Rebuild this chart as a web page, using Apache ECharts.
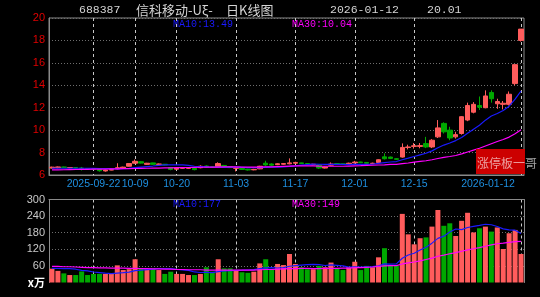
<!DOCTYPE html>
<html><head><meta charset="utf-8">
<script src="https://cdn.jsdelivr.net/npm/echarts@6/dist/echarts.min.js"></script>
<style>html,body{margin:0;padding:0;background:#000;}#c{width:540px;height:297px;}</style>
</head><body><div id="c"></div>
<script>
// ---------- data ----------
const dates = [
'2025-09-11','2025-09-12','2025-09-15','2025-09-16','2025-09-17','2025-09-18','2025-09-19','2025-09-22','2025-09-23','2025-09-24',
'2025-09-25','2025-09-26','2025-09-29','2025-09-30','2025-10-09','2025-10-10','2025-10-13','2025-10-14','2025-10-15','2025-10-16',
'2025-10-17','2025-10-20','2025-10-21','2025-10-22','2025-10-23','2025-10-24','2025-10-27','2025-10-28','2025-10-29','2025-10-30',
'2025-10-31','2025-11-03','2025-11-04','2025-11-05','2025-11-06','2025-11-07','2025-11-10','2025-11-11','2025-11-12','2025-11-13',
'2025-11-14','2025-11-17','2025-11-18','2025-11-19','2025-11-20','2025-11-21','2025-11-24','2025-11-25','2025-11-26','2025-11-27',
'2025-11-28','2025-12-01','2025-12-02','2025-12-03','2025-12-04','2025-12-05','2025-12-08','2025-12-09','2025-12-10','2025-12-11',
'2025-12-12','2025-12-15','2025-12-16','2025-12-17','2025-12-18','2025-12-19','2025-12-22','2025-12-23','2025-12-24','2025-12-25',
'2025-12-26','2025-12-29','2025-12-30','2025-12-31','2026-01-05','2026-01-06','2026-01-07','2026-01-08','2026-01-09','2026-01-12'];

const opens = [
6.62,6.65,6.72,6.64,6.66,6.62,6.57,6.56,6.50,6.36,
6.44,6.55,6.62,6.78,7.05,7.18,6.95,7.08,6.95,6.96,
6.66,6.52,6.60,6.60,6.60,6.65,6.80,6.72,6.75,6.85,
6.75,6.60,6.60,6.52,6.46,6.55,7.05,6.98,6.92,6.96,
7.00,7.05,7.08,7.02,6.92,6.90,6.62,6.88,7.02,7.00,
6.95,7.08,7.16,7.12,7.02,7.12,7.62,7.60,7.45,7.60,
8.45,8.55,8.55,8.80,8.50,9.40,10.60,10.00,9.40,9.70,
10.90,11.60,12.20,12.00,13.35,12.35,12.30,12.30,14.15,18.00];
const closes = [
6.70,6.72,6.66,6.67,6.62,6.56,6.55,6.52,6.38,6.44,
6.48,6.65,6.70,7.02,7.22,7.06,7.05,6.95,6.98,6.90,
6.50,6.62,6.66,6.62,6.48,6.78,6.70,6.68,7.02,6.72,
6.66,6.63,6.50,6.45,6.50,6.78,6.90,6.88,7.00,7.02,
7.08,7.12,7.02,6.98,6.96,6.62,6.72,6.98,6.95,6.94,
7.05,7.15,7.10,7.05,7.05,7.36,7.45,7.48,7.40,8.46,
8.50,8.60,8.62,8.50,9.10,10.20,9.85,9.30,9.60,11.20,
12.20,12.30,12.05,13.05,12.80,12.55,12.40,13.20,15.84,19.01];
const lows = [
6.58,6.60,6.62,6.60,6.58,6.40,6.50,6.48,6.30,6.30,
6.42,6.50,6.60,6.75,7.00,7.02,6.92,6.90,6.90,6.86,
6.42,6.50,6.56,6.55,6.42,6.60,6.65,6.64,6.70,6.68,
6.62,6.32,6.45,6.40,6.42,6.52,6.82,6.82,6.88,6.92,
6.95,7.00,6.98,6.94,6.88,6.55,6.58,6.84,6.90,6.90,
6.92,7.02,7.06,7.02,6.98,7.10,7.38,7.42,7.35,7.55,
8.28,8.35,8.38,8.40,8.40,9.30,9.70,9.10,9.25,9.60,
10.80,11.50,11.80,11.95,12.45,11.90,11.85,12.20,14.00,17.90];
const highs = [
6.74,6.76,6.75,6.70,6.68,6.72,6.60,6.58,6.52,6.46,
6.52,7.05,6.74,7.05,7.38,7.22,7.08,7.10,7.02,6.98,
6.68,6.66,6.70,6.66,6.62,6.86,6.85,6.76,7.13,6.90,
6.80,6.68,6.62,6.55,6.55,6.82,7.27,7.04,7.05,7.06,
7.48,7.18,7.10,7.04,7.00,6.92,6.76,7.12,7.05,7.02,
7.10,7.26,7.18,7.14,7.10,7.40,7.93,7.64,7.50,8.82,
8.70,8.85,8.85,9.40,9.20,10.90,10.70,10.30,9.85,11.25,
12.45,12.50,13.00,13.55,13.55,12.80,12.60,13.45,15.84,19.01];

const ma10 = [
6.60,6.60,6.60,6.60,6.60,6.60,6.60,6.59,6.58,6.58,
6.56,6.55,6.56,6.59,6.65,6.70,6.75,6.80,6.86,6.90,
6.90,6.90,6.90,6.86,6.78,6.75,6.72,6.69,6.70,6.68,
6.69,6.70,6.68,6.66,6.66,6.66,6.68,6.70,6.70,6.73,
6.77,6.82,6.88,6.93,6.97,6.96,6.94,6.95,6.95,6.94,
6.93,6.94,6.95,6.95,6.96,7.04,7.11,7.16,7.20,7.36,
7.50,7.65,7.80,7.94,8.15,8.43,8.67,8.85,9.07,9.35,
9.72,10.09,10.43,10.89,11.26,11.49,11.75,12.14,12.76,13.49];
const ma30 = [
6.46,6.46,6.47,6.48,6.49,6.50,6.51,6.52,6.52,6.53,
6.54,6.55,6.56,6.57,6.58,6.59,6.60,6.61,6.62,6.63,
6.64,6.65,6.66,6.67,6.68,6.69,6.70,6.71,6.71,6.72,
6.72,6.72,6.71,6.70,6.70,6.71,6.72,6.73,6.75,6.77,
6.79,6.81,6.82,6.82,6.81,6.79,6.78,6.78,6.78,6.78,
6.80,6.82,6.83,6.85,6.87,6.89,6.91,6.94,6.95,7.01,
7.07,7.14,7.21,7.27,7.36,7.47,7.57,7.65,7.74,7.88,
8.05,8.22,8.39,8.59,8.79,8.99,9.17,9.38,9.68,10.04];

const volumes = [
50,42,33,27,27,40,27,31,31,31,
33,62,45,48,84,51,48,51,45,31,
39,31,31,27,27,31,55,39,84,51,
51,42,37,35,39,69,84,48,67,63,
103,67,55,48,48,60,55,72,50,45,
55,75,45,60,55,91,124,63,60,248,
174,138,160,163,202,262,205,214,168,223,
252,181,196,202,184,199,121,178,190,103];
const volMa10 = [
51,51,50,50,48,44,42,38,36,33.9,
32.2,34.2,35.4,37.5,43.2,44.3,46.4,48.4,49.8,49.8,
50.4,47.3,45.9,43.8,38.1,36.1,36.8,35.6,39.5,41.5,
42.7,43.8,44.4,45.2,46.4,50.2,53.1,54,52.3,53.5,
58.7,61.2,63,64.3,65.2,64.3,61.4,63.8,62.1,60.3,
55.5,56.3,55.3,56.5,57.2,60.3,67.2,66.3,67.3,87.6,
99.5,105.8,117.3,127.6,142.3,159.4,167.5,182.6,193.4,190.9,
198.7,203,206.6,210.5,208.7,202.4,194,190.4,189,177];
const volMa30 = [
58,58,57,57,56,55,54,54,53,53,
52,52,52,51,51,50,50,49,49,48,
48,47,47,46,46,46,45,45,45,45,
45,45,45,45,45,46,47,47,48,49,
50,50,51,51,50,50,51,51,51,52,
52,54,54,55,56,58,60,61,61,67,
71,74,78,83,88,95,99,104,108,113,
118,122,126,131,136,140,142,145,148,149];

const tickDates = ['2025-09-22','2025-10-09','2025-10-20','2025-11-03','2025-11-17','2025-12-01','2025-12-15','2026-01-12'];
const tickLabels = ['2025-09-22','10-09','10-20','11-03','11-17','12-01','12-15','2026-01-12'];

const titleCode = '688387';
const titleName = '信科移动-Uξ-';
const titleKind = '日K线图';
const titleDate = '2026-01-12';
const titlePrice = '20.01';
const badgeText = '涨停板一哥';

// ---------- styles ----------
const UP = '#ff5c5c', DOWN = '#00a800';
const GRIDC = '#8a8a8a', DOT = '#6e6e6e';
const SANS = '"Liberation Sans", Arial, sans-serif';
const MONO = '"Liberation Mono", "DejaVu Sans Mono", monospace';
const CJK = '"Noto Sans CJK SC", sans-serif';
const BLUE = '#1a1aff', MAG = '#ff00ff';

const kData = dates.map((d, i) => [opens[i], closes[i], lows[i], highs[i]]);
const volData = volumes.map((v, i) => ({
  value: v, itemStyle: { color: closes[i] >= opens[i] ? UP : DOWN }
}));
const isTick = (idx, val) => tickDates.indexOf(val) >= 0;
const vSplit = { show: true, interval: isTick, alignWithLabel: true, lineStyle: { color: '#c8c8c8', type: [3, 3], width: 1 } };

const chart = echarts.init(document.getElementById('c'), null, { renderer: 'canvas', width: 540, height: 297 });

const option = {
  backgroundColor: '#000',
  animation: false,
  grid: [
    { left: 49, right: 16, top: 18, height: 157, show: true, borderColor: GRIDC, borderWidth: 1, backgroundColor: 'transparent' },
    { left: 49, right: 16, top: 199.5, height: 83 }
  ],
  xAxis: [
    {
      type: 'category', gridIndex: 0, data: dates, boundaryGap: true,
      axisLine: { show: true, onZero: false, lineStyle: { color: GRIDC } },
      axisTick: { show: false, interval: isTick, alignWithLabel: true },
      splitLine: vSplit,
      axisLabel: {
        interval: isTick,
        formatter: (val) => {
          const k = tickDates.indexOf(val);
          if (k === tickDates.length - 1) return '{last|' + tickLabels[k] + '}';
          return k >= 0 ? tickLabels[k] : '';
        },
        rich: { last: { padding: [0, 66, 0, 0], color: '#1e8fe0', fontSize: 10.5, fontFamily: SANS } },
        color: '#1e8fe0', fontSize: 10.5, fontFamily: SANS, margin: 4
      }
    },
    {
      type: 'category', gridIndex: 1, data: dates, boundaryGap: true, position: 'top',
      axisLine: { show: true, onZero: false, lineStyle: { color: GRIDC } },
      axisTick: { show: false, interval: isTick, alignWithLabel: true },
      axisLabel: { show: false, interval: isTick },
      splitLine: vSplit
    }
  ],
  yAxis: [
    {
      type: 'value', gridIndex: 0, min: 6, max: 20, interval: 2,
      axisLine: { show: true, lineStyle: { color: GRIDC } }, axisTick: { show: false },
      axisLabel: { color: '#e00000', fontSize: 11, fontFamily: SANS, margin: 4 },
      splitLine: { show: true, lineStyle: { color: DOT, type: [1, 2] } }
    },
    {
      type: 'value', gridIndex: 1, min: 0, max: 300, interval: 60,
      axisLine: { show: true, lineStyle: { color: GRIDC } }, axisTick: { show: false },
      axisLabel: {
        color: '#c8c8c8', fontSize: 11, fontFamily: SANS, margin: 4,
        formatter: v => (v === 0 ? '{u|x万}' : String(v)),
        rich: { u: { color: '#ffffff', fontSize: 11, fontFamily: CJK, fontWeight: 'bold' } }
      },
      splitLine: { show: true, lineStyle: { color: ['transparent', DOT, DOT, DOT, DOT, 'transparent'], type: [1, 2] } }
    },
    {
      type: 'value', gridIndex: 1, min: 0, max: 300, interval: 60, position: 'right',
      axisLine: { show: true, lineStyle: { color: GRIDC } }, axisTick: { show: false },
      axisLabel: { show: false }, splitLine: { show: false }
    }
  ],
  series: [
    {
      type: 'candlestick', name: 'K', xAxisIndex: 0, yAxisIndex: 0, data: kData, barWidth: 5,
      itemStyle: { color: UP, color0: DOWN, borderColor: UP, borderColor0: DOWN, borderWidth: 1 }
    },
    { type: 'line', name: 'MA10', xAxisIndex: 0, yAxisIndex: 0, data: ma10, showSymbol: false, lineStyle: { color: BLUE, width: 1.2 }, z: 3 },
    { type: 'line', name: 'MA30', xAxisIndex: 0, yAxisIndex: 0, data: ma30, showSymbol: false, lineStyle: { color: MAG, width: 1.2 }, z: 3 },
    { type: 'bar', name: 'VOL', xAxisIndex: 1, yAxisIndex: 1, data: volData, barWidth: 5 },
    { type: 'line', name: 'VMA10', xAxisIndex: 1, yAxisIndex: 1, data: volMa10, showSymbol: false, lineStyle: { color: BLUE, width: 1.2 }, z: 3 },
    { type: 'line', name: 'VMA30', xAxisIndex: 1, yAxisIndex: 1, data: volMa30, showSymbol: false, lineStyle: { color: MAG, width: 1.2 }, z: 3 }
  ],
  graphic: [
    { type: 'text', x: 79, y: 10, style: { text: titleCode, fill: '#d4d4d4', font: '11.5px ' + MONO, verticalAlign: 'middle' } },
    { type: 'text', x: 136, y: 10, style: { text: titleName, fill: '#d4d4d4', font: '13px ' + CJK, verticalAlign: 'middle' } },
    { type: 'text', x: 226, y: 10, style: { text: titleKind, fill: '#d4d4d4', font: '13px ' + CJK, verticalAlign: 'middle' } },
    { type: 'text', x: 330, y: 10, style: { text: titleDate, fill: '#d4d4d4', font: '11.5px ' + MONO, verticalAlign: 'middle' } },
    { type: 'text', x: 427, y: 10, style: { text: titlePrice, fill: '#d4d4d4', font: '11.5px ' + MONO, verticalAlign: 'middle' } },
    { type: 'text', x: 173, y: 24, style: { text: 'MA10:' + ma10[ma10.length - 1].toFixed(2), fill: BLUE, font: '10px ' + MONO, verticalAlign: 'middle' } },
    { type: 'text', x: 292, y: 24, style: { text: 'MA30:' + ma30[ma30.length - 1].toFixed(2), fill: MAG, font: '10px ' + MONO, verticalAlign: 'middle' } },
    { type: 'text', x: 173, y: 204, style: { text: 'MA10:' + Math.round(volMa10[volMa10.length - 1]), fill: BLUE, font: '10px ' + MONO, verticalAlign: 'middle' } },
    { type: 'text', x: 292, y: 204, style: { text: 'MA30:' + Math.round(volMa30[volMa30.length - 1]), fill: MAG, font: '10px ' + MONO, verticalAlign: 'middle' } },
    { type: 'rect', shape: { x: 476, y: 149, width: 49, height: 25 }, style: { fill: '#cc0000' }, z: 10 },
    { type: 'text', x: 477, y: 163, style: { text: badgeText, fill: 'rgba(255,255,255,0.62)', font: '12px ' + CJK, verticalAlign: 'middle' }, z: 11 }
  ]
};
chart.setOption(option);
</script>
</body></html>
